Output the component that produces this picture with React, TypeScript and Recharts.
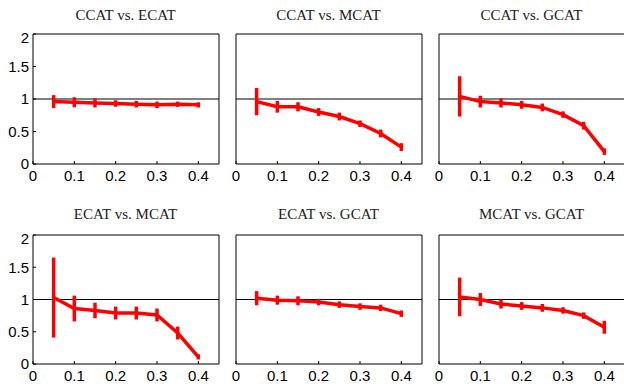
import React from 'react';
import { LineChart, Line, XAxis, YAxis, ErrorBar, ReferenceLine } from 'recharts';

const xValues = [0.05, 0.1, 0.15, 0.2, 0.25, 0.3, 0.35, 0.4];
const xTicks = [0, 0.1, 0.2, 0.3, 0.4];
const yTicks = [0, 0.5, 1, 1.5, 2];

const ccatEcat = [0.96, 0.95, 0.94, 0.93, 0.92, 0.91, 0.92, 0.91];
const ccatEcatErr = [0.1, 0.077, 0.07, 0.05, 0.05, 0.05, 0.04, 0.04];
const ccatMcat = [0.96, 0.88, 0.88, 0.8, 0.73, 0.62, 0.47, 0.26];
const ccatMcatErr = [0.21, 0.09, 0.07, 0.06, 0.06, 0.05, 0.06, 0.06];
const ccatGcat = [1.04, 0.96, 0.94, 0.91, 0.87, 0.76, 0.59, 0.19];
const ccatGcatErr = [0.31, 0.09, 0.07, 0.06, 0.06, 0.05, 0.06, 0.05];
const ecatMcat = [1.03, 0.86, 0.83, 0.79, 0.79, 0.76, 0.48, 0.11];
const ecatMcatErr = [0.62, 0.2, 0.12, 0.1, 0.1, 0.1, 0.1, 0.04];
const ecatGcat = [1.02, 0.99, 0.98, 0.96, 0.92, 0.89, 0.87, 0.78];
const ecatGcatErr = [0.11, 0.07, 0.07, 0.05, 0.05, 0.05, 0.05, 0.05];
const mcatGcat = [1.04, 1.0, 0.93, 0.9, 0.87, 0.83, 0.75, 0.57];
const mcatGcatErr = [0.3, 0.1, 0.07, 0.06, 0.06, 0.05, 0.05, 0.1];

const panels = [
  { title: 'CCAT vs. ECAT', values: ccatEcat, errors: ccatEcatErr },
  { title: 'CCAT vs. MCAT', values: ccatMcat, errors: ccatMcatErr },
  { title: 'CCAT vs. GCAT', values: ccatGcat, errors: ccatGcatErr },
  { title: 'ECAT vs. MCAT', values: ecatMcat, errors: ecatMcatErr },
  { title: 'ECAT vs. GCAT', values: ecatGcat, errors: ecatGcatErr },
  { title: 'MCAT vs. GCAT', values: mcatGcat, errors: mcatGcatErr },
];

const colLeft = [32.5, 235.5, 438.5];
const rowTop = [33.5, 234.5];
const boxW = 186;
const boxH = [130, 129];
const M = 4;
const labelW = 32;

const tickFont = { fontFamily: '"Liberation Sans", Arial, sans-serif', fontSize: 15, fill: '#000' };

function Panel({ index }: { index: number }) {
  const p = panels[index];
  const col = index % 3;
  const row = Math.floor(index / 3);
  const yW = col === 0 ? labelW : 1;
  const h = boxH[row];
  const data = xValues.map((x, i) => ({ x, y: p.values[i], err: p.errors[i] }));
  const width = M + yW + boxW + 1 + M;
  const height = M + 1 + h + 26;
  return (
    <div
      style={{
        position: 'absolute',
        left: colLeft[col] - M - yW,
        top: rowTop[row] - M - 1,
        width,
        height,
      }}
    >
      <LineChart width={width} height={height} data={data} margin={{ top: M, right: M, bottom: 0, left: M }}>
        <XAxis
          dataKey="x"
          type="number"
          domain={[0, 0.45]}
          ticks={xTicks}
          allowDataOverflow
          height={26}
          stroke="#000"
          tickSize={-3}
          tickMargin={9}
          tick={tickFont}
        />
        {/* top and right axes close the box, ticks pointing inward */}
        <XAxis
          xAxisId="top"
          dataKey="x"
          orientation="top"
          type="number"
          domain={[0, 0.45]}
          ticks={xTicks}
          allowDataOverflow
          height={1}
          stroke="#000"
          tickSize={-3}
          tick={false}
        />
        <YAxis
          type="number"
          domain={[0, 2]}
          ticks={yTicks}
          allowDataOverflow
          width={yW}
          stroke="#000"
          tickSize={-3}
          tickMargin={7}
          tick={col === 0 ? tickFont : false}
        />
        <YAxis
          yAxisId="right"
          orientation="right"
          type="number"
          domain={[0, 2]}
          ticks={yTicks}
          allowDataOverflow
          width={1}
          stroke="#000"
          tickSize={-3}
          tick={false}
        />
        <ReferenceLine y={1} stroke="#000" strokeWidth={1} />
        <Line
          xAxisId="top"
          yAxisId="right"
          dataKey="y"
          stroke="none"
          strokeWidth={0}
          dot={false}
          legendType="none"
          isAnimationActive={false}
        />
        <Line
          dataKey="y"
          stroke="#ff0000"
          strokeWidth={3.5}
          dot={false}
          isAnimationActive={false}
        >
          <ErrorBar dataKey="err" direction="y" width={0} stroke="#ff0000" strokeWidth={3.5} isAnimationActive={false} />
        </Line>
      </LineChart>
    </div>
  );
}

export default function App() {
  return (
    <div style={{ position: 'absolute', left: 0, top: 0, width: 624, height: 384, overflow: 'hidden', background: '#fff' }}>
      {panels.map((p, i) => {
        const col = i % 3;
        const row = Math.floor(i / 3);
        return (
          <div
            key={p.title}
            style={{
              position: 'absolute',
              left: colLeft[col],
              width: boxW,
              top: row === 0 ? 6 : 205,
              textAlign: 'center',
              fontFamily: '"Liberation Serif", "Times New Roman", serif',
              fontSize: 15,
              color: '#222',
              lineHeight: '18px',
              whiteSpace: 'nowrap',
            }}
          >
            {p.title}
          </div>
        );
      })}
      {panels.map((p, i) => (
        <Panel key={p.title} index={i} />
      ))}
    </div>
  );
}
